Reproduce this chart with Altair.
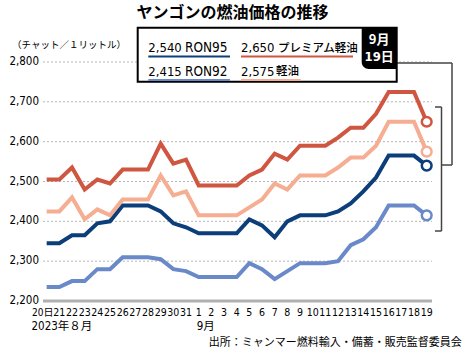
import altair as alt
import pandas as pd

# ---- data ----
day_labels = ["20日", "21", "22", "23", "24", "25", "26", "27", "28", "29", "30", "31",
              "1", "2", "3", "4", "5", "6", "7", "8", "9", "10", "11", "12", "13", "14",
              "15", "16", "17", "18", "19"]
premium_diesel = [2505, 2505, 2535, 2480, 2505, 2495, 2530, 2530, 2530, 2595, 2545, 2555,
                  2490, 2490, 2490, 2490, 2515, 2530, 2570, 2555, 2590, 2590, 2590, 2610,
                  2635, 2635, 2670, 2725, 2725, 2725, 2650]
diesel = [2425, 2425, 2460, 2405, 2430, 2415, 2455, 2455, 2455, 2515, 2465, 2475,
          2415, 2415, 2415, 2415, 2435, 2455, 2495, 2480, 2515, 2515, 2515, 2535,
          2560, 2560, 2590, 2650, 2650, 2650, 2575]
ron95 = [2345, 2345, 2365, 2365, 2395, 2400, 2440, 2440, 2440, 2425, 2395, 2385,
         2370, 2370, 2370, 2370, 2405, 2390, 2360, 2400, 2415, 2415, 2415, 2425,
         2445, 2475, 2510, 2565, 2565, 2565, 2540]
ron92 = [2235, 2235, 2250, 2250, 2280, 2280, 2310, 2310, 2310, 2305, 2280, 2275,
         2260, 2260, 2260, 2260, 2295, 2280, 2255, 2275, 2295, 2295, 2295, 2300,
         2340, 2355, 2385, 2440, 2440, 2440, 2415]
series_names = ["RON92", "RON95", "軽油", "プレミアム軽油"]
series_colors = ["#6a89c8", "#0c3e7a", "#f5ae92", "#cf5641"]
y_ticks = [2200, 2300, 2400, 2500, 2600, 2700, 2800]

title_text = "ヤンゴンの燃油価格の推移"
unit_text = "（チャット／１リットル）"
month1_text = "2023年８月"
month2_text = "9月"
source_text = "出所：ミャンマー燃料輸入・備蓄・販売監督委員会"
date_text1 = "9月"
date_text2 = "19日"

LAT = "Liberation Sans Narrow, DejaVu Sans Condensed, Roboto Condensed, Roboto, Noto Sans CJK JP"
JP = "Noto Sans CJK JP"

W, H = 389, 239

rows = []
for name, vals in zip(series_names, [ron92, ron95, diesel, premium_diesel]):
    for i, v in enumerate(vals):
        rows.append({"idx": i, "value": v, "series": name})
df = pd.DataFrame(rows)
last = df[df["idx"] == len(day_labels) - 1]
xlab = pd.DataFrame({"idx": list(range(len(day_labels))), "lab": day_labels})
ylab = pd.DataFrame({"v": y_ticks, "lab": [f"{v:,}" for v in y_ticks]})

xs = alt.Scale(domain=[-0.29, 30.42], nice=False, zero=False)
ys = alt.Scale(domain=[2200, 2800], nice=False, zero=False)
cs = alt.Scale(domain=series_names, range=series_colors)

# gridlines + y labels drawn from the tick list through the y scale
grid = alt.Chart(ylab).transform_filter("datum.v > 2200").mark_rule(
    color="#b5b5b5", strokeWidth=1, strokeDash=[2, 2]).encode(
    y=alt.Y("v:Q", scale=ys, axis=None), x=alt.value(0), x2=alt.value(W))
baseline_rule = alt.Chart(ylab).transform_filter("datum.v == 2200").mark_rule(
    color="#b0b0b0", strokeWidth=3).encode(
    y=alt.Y("v:Q", scale=ys, axis=None), x=alt.value(0), x2=alt.value(W))
ylabels = alt.Chart(ylab).mark_text(font=LAT, fontSize=11.5, color="black", align="right",
                                    baseline="middle").encode(
    y=alt.Y("v:Q", scale=ys, axis=None), x=alt.value(-4), text="lab:N")

lines = alt.Chart(df).mark_line(strokeWidth=4).encode(
    x=alt.X("idx:Q", scale=xs, axis=None),
    y=alt.Y("value:Q", scale=ys, axis=None),
    color=alt.Color("series:N", scale=cs, legend=None),
    detail="series:N",
)
points = alt.Chart(last).mark_point(shape="circle", fill="white", fillOpacity=1, opacity=1,
                                    strokeWidth=2.5, size=95).encode(
    x=alt.X("idx:Q", scale=xs, axis=None), y=alt.Y("value:Q", scale=ys, axis=None),
    color=alt.Color("series:N", scale=cs, legend=None))

xlabels = alt.Chart(xlab).transform_filter("datum.idx > 0").mark_text(
    font=LAT, fontSize=10.5, color="black", align="center", baseline="middle").encode(
    x=alt.X("idx:Q", scale=xs, axis=None), y=alt.value(H + 12), text="lab:N")
xlabel0 = alt.Chart(xlab).transform_filter("datum.idx == 0").mark_text(
    font=LAT, fontSize=10, color="black", align="center", baseline="middle", dx=-4).encode(
    x=alt.X("idx:Q", scale=xs, axis=None), y=alt.value(H + 12), text="lab:N")

one = pd.DataFrame({"a": [0]})


def rule(x, y, x2=None, y2=None, color="#444", width=1.5):
    enc = {"x": alt.value(x), "y": alt.value(y)}
    enc["x2"] = alt.value(x2 if x2 is not None else x)
    enc["y2"] = alt.value(y2 if y2 is not None else y)
    return alt.Chart(one).mark_rule(color=color, strokeWidth=width).encode(**enc)


def txt(x, y, s, size, font=JP, color="black", weight="normal", align="left"):
    return alt.Chart(pd.DataFrame({"t": [s]})).mark_text(
        font=font, fontSize=size, color=color, fontWeight=weight, align=align, baseline="middle"
    ).encode(x=alt.value(x), y=alt.value(y), text="t:N")


box = alt.Chart(one).mark_rect(fill="white", stroke="black", strokeWidth=2).encode(
    x=alt.value(94.7), x2=alt.value(353.7), y=alt.value(-34.3), y2=alt.value(19.7))
tab = alt.Chart(one).mark_rect(fill="black", cornerRadiusBottomLeft=7).encode(
    x=alt.value(318.7), x2=alt.value(353.7), y=alt.value(-34.3), y2=alt.value(7))

legend_layers = []
entries = [
    (ron95, "RON95", 105.3, -14, 142, 187, series_colors[1]),
    (premium_diesel, "プレミアム軽油", 198, -14, 235, 310, series_colors[3]),
    (ron92, "RON92", 105.3, 9.5, 142, 187, series_colors[0]),
    (diesel, "軽油", 198, 9.5, 233, 257.7, series_colors[2]),
]
for vals, name, x0, yy, xn, xu, col in entries:
    legend_layers.append(txt(x0, yy, f"{vals[-1]:,}", 13, font=LAT, weight=500))
    if name.startswith("RON"):
        legend_layers.append(txt(xn, yy, name, 13.5, font=LAT, weight=500))
    else:
        legend_layers.append(txt(xn, yy + 0.5, name, 11.5, font=JP, weight=500))
    legend_layers.append(rule(x0, yy + 8.5, xu, yy + 8.5, color=col, width=2))

brackets = [
    rule(353.7, 1, 409, 1), rule(409, 1, 409, 103), rule(398.5, 103, 409, 103),
    rule(392, 45, 398.5, 45), rule(398.5, 45, 398.5, 169), rule(392, 169, 398.5, 169),
]

texts = [
    txt(189.5, -49, title_text, 16, weight="bold", align="center"),
    txt(-31, -17, unit_text, 9.5),
    txt(-11.5, 264.7, month1_text, 11.5, font=LAT),
    txt(153.7, 264.7, month2_text, 11.5, font=LAT),
    txt(418.7, 281.3, source_text, 11, align="right"),
    txt(336.2, -22, date_text1, 13, color="white", weight="bold", align="center"),
    txt(336.2, -5.5, date_text2, 13, color="white", weight="bold", align="center", font=LAT),
]

chart = alt.layer(
    grid, baseline_rule, ylabels, lines, points, xlabels, xlabel0, *brackets, box, tab,
    *legend_layers, *texts
).properties(
    width=W, height=H,
    padding={"left": 43, "top": 62, "right": 33, "bottom": 53},
    autosize=alt.AutoSizeParams(type="none"),
    background="white",
).configure_view(stroke=None)

chart.save("out.html", embed_options={"renderer": "svg", "actions": False})
